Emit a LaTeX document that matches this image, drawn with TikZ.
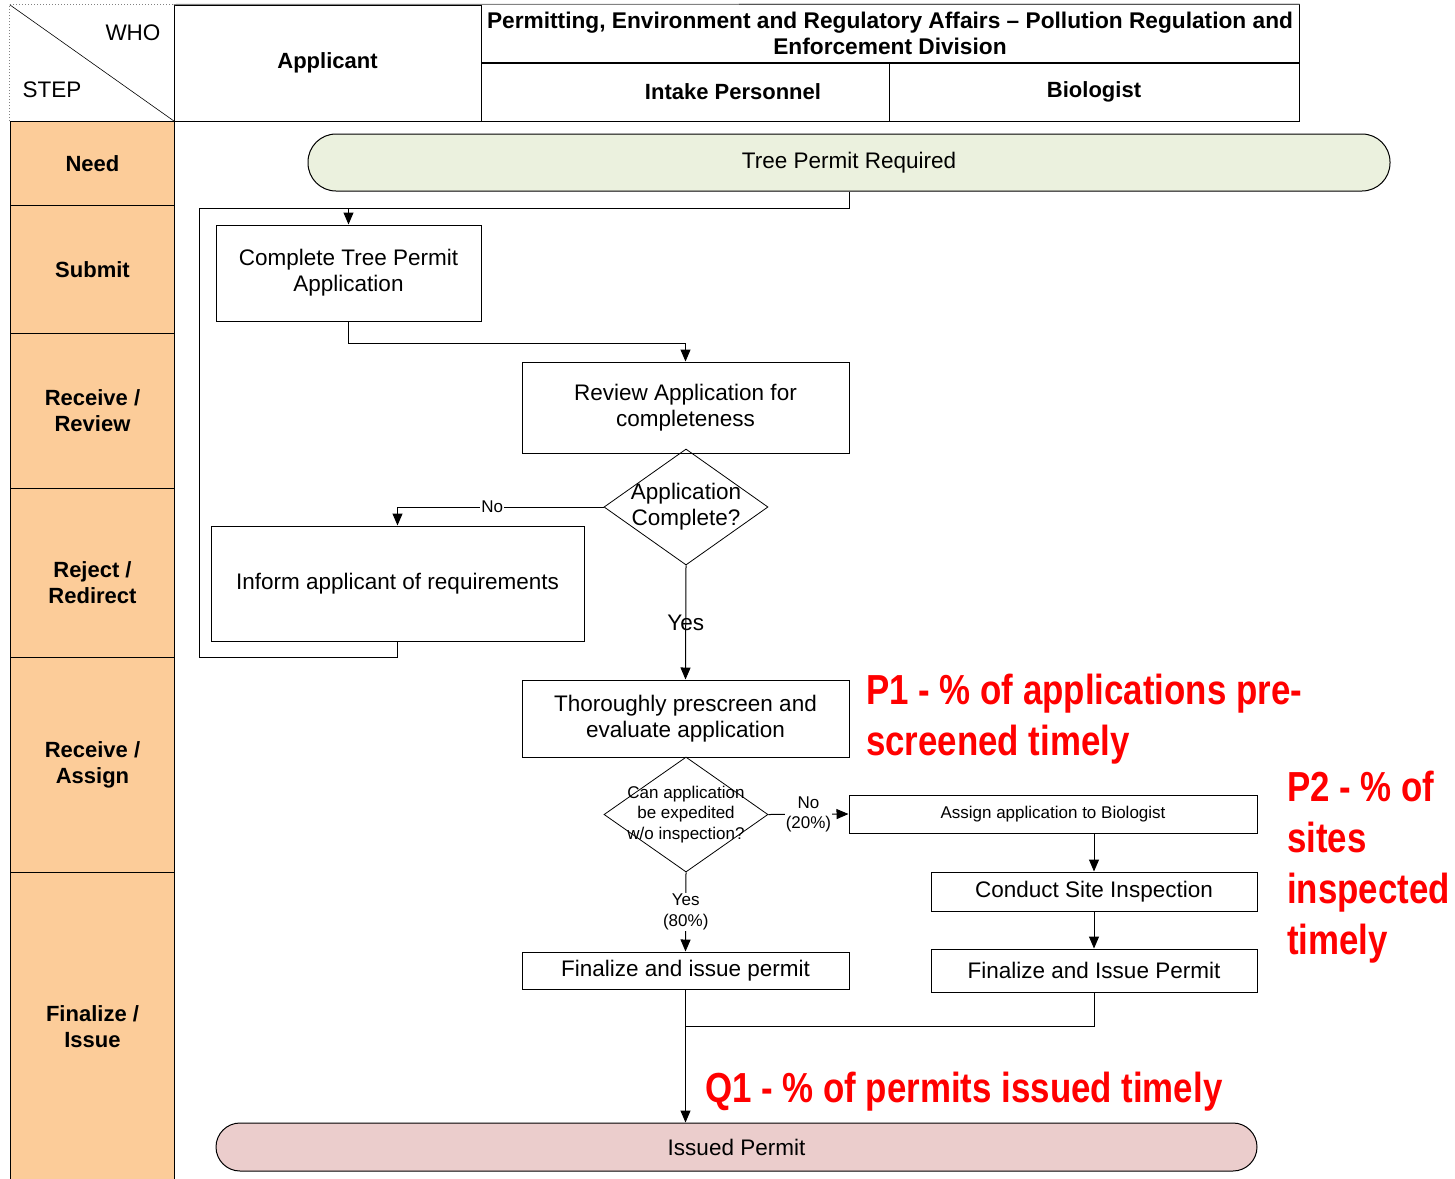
\documentclass[tikz,border=0pt]{standalone}
\usepackage{fontspec}
\setmainfont{Liberation Sans}
\usepackage{graphicx}
\usepackage{tikz}
\usetikzlibrary{shapes.geometric,arrows.meta}

\definecolor{stepfill}{RGB}{252,204,153}
\definecolor{needfill}{RGB}{235,241,222}
\definecolor{donefill}{RGB}{235,205,204}
\definecolor{kpired}{RGB}{255,0,0}
\definecolor{gridgrey}{RGB}{130,130,130}

\newcommand{\narrowtxt}[1]{\scalebox{0.83}[1]{#1}}

\tikzset{
  body/.style={font=\fontsize{22.5}{26}\selectfont},
  smalltxt/.style={font=\fontsize{17}{20.5}\selectfont},
  hdcell/.style={draw, line width=1pt, inner sep=0pt, align=center, font=\bfseries\fontsize{22}{26}\selectfont},
  stepcell/.style={draw, fill=stepfill, line width=1pt, minimum width=164pt, inner sep=0pt, anchor=north west, align=center, font=\bfseries\fontsize{22}{26}\selectfont},
  task/.style={draw, fill=white, line width=1pt, inner sep=0pt, align=center, body},
  decision/.style={draw, diamond, line width=0.8pt, inner sep=0pt, minimum width=164pt, minimum height=116pt},
  terminal/.style={draw, line width=1pt, inner sep=0pt, body},
  flow/.style={-{Triangle[length=12pt,width=10pt]}, line width=1pt},
  line/.style={line width=1pt},
  kpi/.style={text=kpired, anchor=north west, inner sep=0pt, align=left, font=\bfseries\fontsize{42}{51}\selectfont},
}

\begin{document}
\begin{tikzpicture}[x=1pt, y=-1pt]
  \useasboundingbox (0,0) rectangle (1455,1178);

  % Header row
  \node[minimum width=164pt, minimum height=116pt, inner sep=0pt] (who) at (92,63) {};
  \draw[gridgrey, dotted, line width=1pt] (who.south west) -- (who.north west) -- (who.north east);
  \draw[line width=0.6pt] (who.north west) -- (who.south east);
  \node[body] (wholabel) at (133,33) {WHO};
  \node[body] (steplabel) at (52,90) {STEP};

  \node[hdcell, minimum width=307pt, minimum height=116pt] (applicant) at (327.5,63) {Applicant};
  \node[hdcell, minimum width=818pt, minimum height=58pt, font=\bfseries\fontsize{22.7}{26}\selectfont] (division) at (890,33.5)
    {Permitting, Environment and Regulatory Affairs – Pollution Regulation and\\Enforcement Division};
  \node[hdcell, minimum width=408pt, minimum height=58pt] (intake) at (685,92) {\hspace*{96pt}Intake Personnel};
  \node[hdcell, minimum width=410pt, minimum height=58pt] (biologist) at (1094,92) {Biologist};
  \draw[gridgrey, line width=1pt] (applicant.north west) -- (division.north east);
  \draw[line width=1pt] (who.south west) -- (who.south east);

  % Steps
  \node[stepcell, minimum height=84pt] (need) at (10,121) {Need};
  \node[stepcell, minimum height=128pt] (submit) at (10,205) {Submit};
  \node[stepcell, minimum height=155pt] (receive) at (10,333) {Receive /\\Review};
  \node[stepcell, minimum height=169pt,
    label={[yshift=-10pt, align=center, font=\bfseries\fontsize{22}{26}\selectfont]center:Reject /\\Redirect}] (reject) at (10,488) {};
  \node[stepcell, minimum height=215pt] (assign) at (10,657) {Receive /\\Assign};
  \node[stepcell, minimum height=308pt] (issue) at (10,872) {Finalize /\\Issue};

  % Process
  \node[terminal, fill=needfill, rounded corners=28pt, minimum width=1082pt, minimum height=57pt] (start) at (849,162.5) {Tree Permit Required};
  \node[task, minimum width=265pt, minimum height=96pt] (complete) at (348.5,273) {Complete Tree Permit\\Application};
  \node[task, minimum width=327pt, minimum height=91pt] (review) at (685.5,407.5) {Review Application for\\completeness};
  \node[decision, label={[body, align=center]center:Application\\Complete?}] (appok) at (686,507) {};
  \node[task, minimum width=373pt, minimum height=115pt] (inform) at (397.5,583.5) {Inform applicant of requirements};
  \node[task, minimum width=327pt, minimum height=77pt] (prescreen) at (685.5,718.5) {Thoroughly prescreen and\\evaluate application};
  \node[decision, minimum height=115pt, label={[smalltxt, align=center]center:Can application\\be expedited\\w/o inspection?}] (expedite) at (686,814.5) {};
  \node[task, smalltxt, minimum width=408pt, minimum height=38pt] (assignbio) at (1053,814) {Assign application to Biologist};
  \node[task, minimum width=326pt, minimum height=39pt] (inspect) at (1094,891.5) {Conduct Site Inspection};
  \node[task, minimum width=326pt, minimum height=43pt] (finalbio) at (1094,970.5) {Finalize and Issue Permit};
  \node[task, minimum width=327pt, minimum height=37pt] (finalint) at (685.5,970.5) {Finalize and issue permit};
  \node[terminal, fill=donefill, rounded corners=24pt, minimum width=1041pt, minimum height=48pt] (issued) at (736.5,1147) {Issued Permit};

  \coordinate (loopbot) at (199,657);
  \coordinate (looptop) at (199,208);
  \coordinate (join) at (686,1026);

  % Connectors
  \draw[flow] (start.south) -- ++(0,17) -| (complete.north);
  \draw[line] (inform.south) |- (loopbot) -- (looptop) -- (complete.north |- looptop);
  \draw[flow] (complete.south) -- ++(0,22) -| (review.north);
  \draw[flow] (appok.west) -| node[pos=0.27, smalltxt, fill=white, inner sep=1pt] {No} (inform.north);
  \draw[flow] (appok.south) -- node[body] {Yes} (prescreen.north);
  \draw[flow] (expedite.east) -- node[smalltxt, fill=white, align=center, inner sep=1pt] {No\\(20\%)} (assignbio.west);
  \draw[flow] (expedite.south) -- node[smalltxt, fill=white, align=center, inner sep=1pt] {Yes\\(80\%)} (finalint.north);
  \draw[flow] (inspect.north |- assignbio.south) -- (inspect.north);
  \draw[flow] (inspect.south) -- (finalbio.north);
  \draw[flow] (finalint.south) -- (finalint.south |- issued.north);
  \draw[line] (finalbio.south) |- (join);

  % Measures
  \node[kpi] (kpione) at (866,674) {\narrowtxt{P1 - \% of applications pre-}\\\narrowtxt{screened timely}};
  \node[kpi] (kpitwo) at (1287,771) {\narrowtxt{P2 - \% of}\\\narrowtxt{sites}\\\narrowtxt{inspected}\\\narrowtxt{timely}};
  \node[kpi] (kpiq) at (705,1072) {\narrowtxt{Q1 - \% of permits issued timely}};
\end{tikzpicture}
\end{document}
